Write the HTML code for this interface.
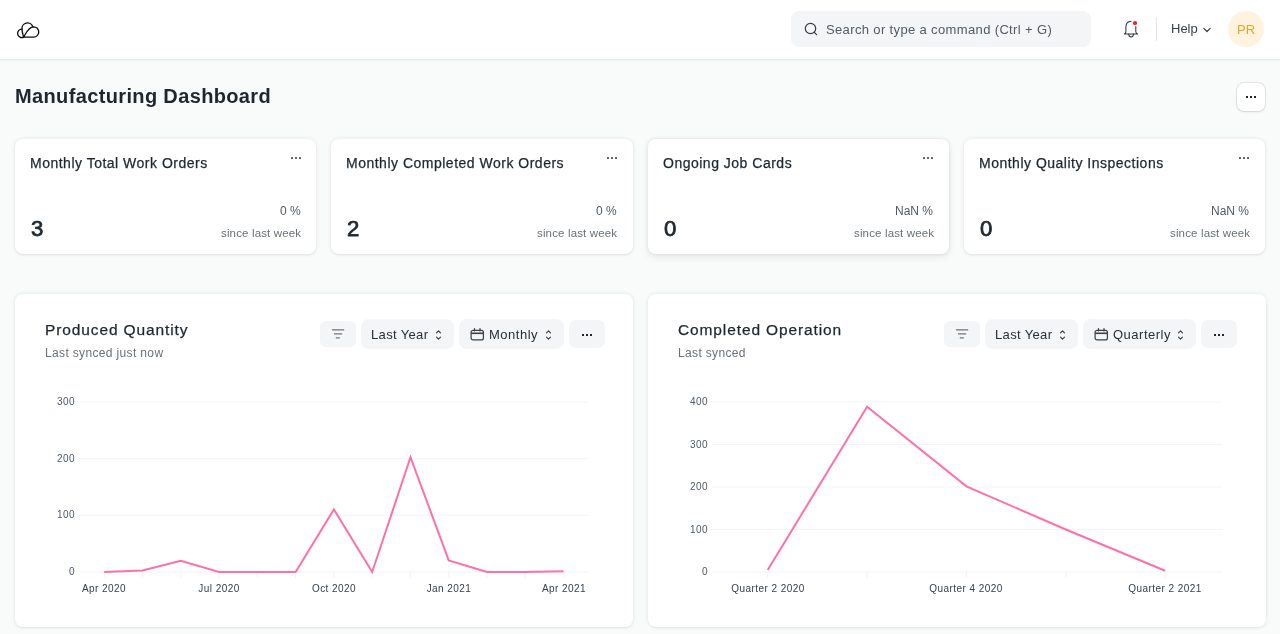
<!DOCTYPE html>
<html><head><meta charset="utf-8"><title>Manufacturing Dashboard</title>
<style>
html,body{margin:0;padding:0;width:1280px;height:634px;overflow:hidden;background:#F9FAFA;font-family:"Liberation Sans", sans-serif;}
.t{position:absolute;white-space:pre;font-family:"Liberation Sans", sans-serif;will-change:transform;}
</style></head><body>
<div style="position:absolute;left:0px;top:0px;width:1280px;height:59px;background:#fff;border-bottom:1px solid #E9ECEE;box-shadow:0 1px 2px rgba(25,39,52,0.04)"></div>
<svg style="position:absolute;left:14px;top:18px" width="28" height="22" viewBox="0 0 28 22" fill="none" stroke="#0B0B0B" stroke-width="1.3" stroke-linejoin="round" stroke-linecap="round">
<path d="M9.6 19.1 A4.17 4.17 0 1 1 8.0 11.2"/>
<path d="M9.6 19.1 C9.0 16.4 7.9 13.8 8.0 11.2 A5.56 5.56 0 0 1 18.7 8.5"/>
<path d="M9.6 19.1 C12.2 15.2 14 9.2 19.6 8.8 A5.1 5.1 0 0 1 19.6 19.1 Z"/>
</svg>
<div style="position:absolute;left:791px;top:11px;width:300px;height:36px;background:#F4F5F6;border-radius:8px"></div>
<svg style="position:absolute;left:803px;top:21px" width="16" height="16" viewBox="0 0 16 16" fill="none" stroke="#333C44" stroke-width="1.2" stroke-linecap="round">
<circle cx="7.5" cy="7.5" r="5.2"/><path d="M11.3 11.3 L13.6 13.6"/></svg>
<div class="t" style="left:825.80px;top:22.80px;font-size:13px;line-height:13px;color:#525B63;font-weight:400;letter-spacing:0.36px;">Search or type a command (Ctrl + G)</div>
<svg style="position:absolute;left:1118px;top:16px" width="28" height="26" viewBox="0 0 28 26" fill="none" stroke="#30383F" stroke-width="1.05" stroke-linecap="round" stroke-linejoin="round">
<path d="M13.1 5.3 C9.8 5.5 7.9 8 7.9 11.2 L7.9 15.8 C7.9 16.9 7.3 17.6 6.4 17.9 L19.6 17.9 C18.7 17.6 17.8 16.9 17.8 15.8 L17.8 10.5"/>
<path d="M10.7 18.1 C10.9 20 12 20.9 13.1 20.9 C14.2 20.9 15.3 20 15.5 18.1"/>
</svg>
<div style="position:absolute;left:1133.2px;top:21px;width:3.7px;height:3.7px;background:#F5222D;border-radius:50%"></div>
<div style="position:absolute;left:1156px;top:17px;width:1px;height:24px;background:#E2E6E9"></div>
<div class="t" style="left:1171.00px;top:22.30px;font-size:13px;line-height:13px;color:#383F45;font-weight:400;letter-spacing:0px;">Help</div>
<svg style="position:absolute;left:1202px;top:26px" width="10" height="8" viewBox="0 0 10 8" fill="none" stroke="#383F45" stroke-width="1.2" stroke-linecap="round" stroke-linejoin="round"><path d="M1.8 2.3 L5 5.5 L8.2 2.3"/></svg>
<div style="position:absolute;left:1228px;top:11px;width:36px;height:36px;background:#FFF3DF;border-radius:50%"></div>
<div class="t" style="left:1237.20px;top:22.80px;font-size:13px;line-height:13px;color:#E2A528;font-weight:400;letter-spacing:0.2px;">PR</div>
<div class="t" style="left:14.80px;top:85.87px;font-size:20px;line-height:20px;color:#1F272E;font-weight:700;letter-spacing:0.36px;">Manufacturing Dashboard</div>
<div style="position:absolute;left:1236.5px;top:83px;width:28px;height:28px;background:#fff;border-radius:7px;box-shadow:0 0 0 1px rgba(25,39,52,0.08),0 1px 3px rgba(25,39,52,0.10)"></div>
<div style="position:absolute;left:1246px;top:96px;width:2px;height:2px;background:#1F272E"></div>
<div style="position:absolute;left:1250px;top:96px;width:2px;height:2px;background:#1F272E"></div>
<div style="position:absolute;left:1254px;top:96px;width:2px;height:2px;background:#1F272E"></div>
<div style="position:absolute;left:15px;top:139px;width:301.25px;height:115px;background:#fff;border-radius:8px;box-shadow:0 1px 2px rgba(25,39,52,0.05),0 0 4px rgba(25,39,52,0.10)"></div>
<div class="t" style="left:30.00px;top:155.95px;font-size:14px;line-height:14px;color:#1F272E;font-weight:400;letter-spacing:0.5px;-webkit-text-stroke:0.25px #1F272E">Monthly Total Work Orders</div>
<div style="position:absolute;left:290.5px;top:157px;width:2px;height:2px;background:#505A62;border-radius:0.5px"></div>
<div style="position:absolute;left:294.5px;top:157px;width:2px;height:2px;background:#505A62;border-radius:0.5px"></div>
<div style="position:absolute;left:298.5px;top:157px;width:2px;height:2px;background:#505A62;border-radius:0.5px"></div>
<div class="t" style="left:31.00px;top:218.60px;font-size:21.5px;line-height:21.5px;color:#1F272E;font-weight:400;letter-spacing:0px;transform:scaleX(1.03);transform-origin:0 0;-webkit-text-stroke:0.75px #1F272E;">3</div>
<div class="t" style="right:979.50px;top:204.94px;font-size:12px;line-height:12px;color:#505A62;font-weight:400;letter-spacing:0px;">0 %</div>
<div class="t" style="right:978.70px;top:227.77px;font-size:11.5px;line-height:11.5px;color:#687178;font-weight:400;letter-spacing:0.15px;">since last week</div>
<div style="position:absolute;left:331.25px;top:139px;width:301.25px;height:115px;background:#fff;border-radius:8px;box-shadow:0 1px 2px rgba(25,39,52,0.05),0 0 4px rgba(25,39,52,0.10)"></div>
<div class="t" style="left:346.25px;top:155.95px;font-size:14px;line-height:14px;color:#1F272E;font-weight:400;letter-spacing:0.5px;-webkit-text-stroke:0.25px #1F272E">Monthly Completed Work Orders</div>
<div style="position:absolute;left:606.75px;top:157px;width:2px;height:2px;background:#505A62;border-radius:0.5px"></div>
<div style="position:absolute;left:610.75px;top:157px;width:2px;height:2px;background:#505A62;border-radius:0.5px"></div>
<div style="position:absolute;left:614.75px;top:157px;width:2px;height:2px;background:#505A62;border-radius:0.5px"></div>
<div class="t" style="left:347.25px;top:218.60px;font-size:21.5px;line-height:21.5px;color:#1F272E;font-weight:400;letter-spacing:0px;transform:scaleX(1.03);transform-origin:0 0;-webkit-text-stroke:0.75px #1F272E;">2</div>
<div class="t" style="right:663.25px;top:204.94px;font-size:12px;line-height:12px;color:#505A62;font-weight:400;letter-spacing:0px;">0 %</div>
<div class="t" style="right:662.45px;top:227.77px;font-size:11.5px;line-height:11.5px;color:#687178;font-weight:400;letter-spacing:0.15px;">since last week</div>
<div style="position:absolute;left:647.5px;top:139px;width:301.25px;height:115px;background:#fff;border-radius:8px;box-shadow:0 4px 8px rgba(25,39,52,0.06),0 0 4px rgba(25,39,52,0.12)"></div>
<div class="t" style="left:662.50px;top:155.95px;font-size:14px;line-height:14px;color:#1F272E;font-weight:400;letter-spacing:0.5px;-webkit-text-stroke:0.25px #1F272E">Ongoing Job Cards</div>
<div style="position:absolute;left:923.0px;top:157px;width:2px;height:2px;background:#505A62;border-radius:0.5px"></div>
<div style="position:absolute;left:927.0px;top:157px;width:2px;height:2px;background:#505A62;border-radius:0.5px"></div>
<div style="position:absolute;left:931.0px;top:157px;width:2px;height:2px;background:#505A62;border-radius:0.5px"></div>
<div class="t" style="left:663.50px;top:218.60px;font-size:21.5px;line-height:21.5px;color:#1F272E;font-weight:400;letter-spacing:0px;transform:scaleX(1.03);transform-origin:0 0;-webkit-text-stroke:0.75px #1F272E;">0</div>
<div class="t" style="right:347.00px;top:204.94px;font-size:12px;line-height:12px;color:#505A62;font-weight:400;letter-spacing:0px;">NaN %</div>
<div class="t" style="right:346.20px;top:227.77px;font-size:11.5px;line-height:11.5px;color:#687178;font-weight:400;letter-spacing:0.15px;">since last week</div>
<div style="position:absolute;left:963.75px;top:139px;width:301.25px;height:115px;background:#fff;border-radius:8px;box-shadow:0 1px 2px rgba(25,39,52,0.05),0 0 4px rgba(25,39,52,0.10)"></div>
<div class="t" style="left:978.75px;top:155.95px;font-size:14px;line-height:14px;color:#1F272E;font-weight:400;letter-spacing:0.5px;-webkit-text-stroke:0.25px #1F272E">Monthly Quality Inspections</div>
<div style="position:absolute;left:1239.25px;top:157px;width:2px;height:2px;background:#505A62;border-radius:0.5px"></div>
<div style="position:absolute;left:1243.25px;top:157px;width:2px;height:2px;background:#505A62;border-radius:0.5px"></div>
<div style="position:absolute;left:1247.25px;top:157px;width:2px;height:2px;background:#505A62;border-radius:0.5px"></div>
<div class="t" style="left:979.75px;top:218.60px;font-size:21.5px;line-height:21.5px;color:#1F272E;font-weight:400;letter-spacing:0px;transform:scaleX(1.03);transform-origin:0 0;-webkit-text-stroke:0.75px #1F272E;">0</div>
<div class="t" style="right:30.75px;top:204.94px;font-size:12px;line-height:12px;color:#505A62;font-weight:400;letter-spacing:0px;">NaN %</div>
<div class="t" style="right:29.95px;top:227.77px;font-size:11.5px;line-height:11.5px;color:#687178;font-weight:400;letter-spacing:0.15px;">since last week</div>
<div style="position:absolute;left:15px;top:294px;width:617.5px;height:333px;background:#fff;border-radius:8px;box-shadow:0 1px 2px rgba(25,39,52,0.05),0 0 4px rgba(25,39,52,0.10)"></div>
<div class="t" style="left:44.60px;top:321.63px;font-size:15.5px;line-height:15.5px;color:#1F272E;font-weight:400;letter-spacing:0.88px;-webkit-text-stroke:0.25px #1F272E">Produced Quantity</div>
<div class="t" style="left:44.60px;top:347.34px;font-size:12px;line-height:12px;color:#687178;font-weight:400;letter-spacing:0.35px;">Last synced just now</div>
<div style="position:absolute;left:320px;top:321px;width:36px;height:26px;background:#F4F5F6;border-radius:6px"></div>
<svg style="position:absolute;left:332px;top:327px" width="13" height="13" viewBox="0 0 13 13" stroke="#6B747C" stroke-width="1.3" stroke-linecap="butt"><path d="M0 2.8H12.2M2 6.8H10.2M3.8 10.8H7.8"/></svg>
<div style="position:absolute;left:361px;top:319px;width:93px;height:30px;background:#F4F5F6;border-radius:8px"></div>
<div class="t" style="left:371.30px;top:328.00px;font-size:13px;line-height:13px;color:#283037;font-weight:400;letter-spacing:0.35px;">Last Year</div>
<svg style="position:absolute;left:435.3px;top:329px" width="7" height="12" viewBox="0 0 7 12" fill="none" stroke="#383F45" stroke-width="1.15" stroke-linecap="round" stroke-linejoin="round"><path d="M1.5 3.9 L3.5 1.9 L5.5 3.9 M1.5 8.1 L3.5 10.1 L5.5 8.1"/></svg>
<div style="position:absolute;left:459px;top:319px;width:105px;height:30px;background:#F4F5F6;border-radius:8px"></div>
<svg style="position:absolute;left:469.5px;top:327.5px" width="15" height="14" viewBox="0 0 15 14" fill="none" stroke="#383F45" stroke-width="1.2"><rect x="1.1" y="2.3" width="12.3" height="9.6" rx="2"/><path d="M1.1 5.3 H13.4" stroke-width="1.6"/><path d="M4.5 0.6 V3 M10 0.6 V3" stroke-linecap="round"/></svg>
<div class="t" style="left:489.00px;top:327.90px;font-size:13px;line-height:13px;color:#283037;font-weight:400;letter-spacing:0.5px;">Monthly</div>
<svg style="position:absolute;left:545.3px;top:329px" width="7" height="12" viewBox="0 0 7 12" fill="none" stroke="#383F45" stroke-width="1.15" stroke-linecap="round" stroke-linejoin="round"><path d="M1.5 3.9 L3.5 1.9 L5.5 3.9 M1.5 8.1 L3.5 10.1 L5.5 8.1"/></svg>
<div style="position:absolute;left:569px;top:320px;width:36px;height:28px;background:#F4F5F6;border-radius:7px"></div>
<div style="position:absolute;left:582px;top:334px;width:2px;height:2px;background:#1F272E"></div>
<div style="position:absolute;left:586px;top:334px;width:2px;height:2px;background:#1F272E"></div>
<div style="position:absolute;left:590px;top:334px;width:2px;height:2px;background:#1F272E"></div>
<svg style="position:absolute;left:0;top:0" width="1280" height="634"><line x1="79" y1="572.0" x2="588.8" y2="572.0" stroke="#F2F4F5" stroke-width="1"/><line x1="79" y1="515.3" x2="588.8" y2="515.3" stroke="#F2F4F5" stroke-width="1"/><line x1="79" y1="458.7" x2="588.8" y2="458.7" stroke="#F2F4F5" stroke-width="1"/><line x1="79" y1="402.0" x2="588.8" y2="402.0" stroke="#F2F4F5" stroke-width="1"/><line x1="104.20" y1="572.0" x2="104.20" y2="577.8" stroke="#F0F2F3" stroke-width="1"/><line x1="142.48" y1="572.0" x2="142.48" y2="577.8" stroke="#F0F2F3" stroke-width="1"/><line x1="180.77" y1="572.0" x2="180.77" y2="577.8" stroke="#F0F2F3" stroke-width="1"/><line x1="219.05" y1="572.0" x2="219.05" y2="577.8" stroke="#F0F2F3" stroke-width="1"/><line x1="257.33" y1="572.0" x2="257.33" y2="577.8" stroke="#F0F2F3" stroke-width="1"/><line x1="295.62" y1="572.0" x2="295.62" y2="577.8" stroke="#F0F2F3" stroke-width="1"/><line x1="333.90" y1="572.0" x2="333.90" y2="577.8" stroke="#F0F2F3" stroke-width="1"/><line x1="372.18" y1="572.0" x2="372.18" y2="577.8" stroke="#F0F2F3" stroke-width="1"/><line x1="410.47" y1="572.0" x2="410.47" y2="577.8" stroke="#F0F2F3" stroke-width="1"/><line x1="448.75" y1="572.0" x2="448.75" y2="577.8" stroke="#F0F2F3" stroke-width="1"/><line x1="487.03" y1="572.0" x2="487.03" y2="577.8" stroke="#F0F2F3" stroke-width="1"/><line x1="525.32" y1="572.0" x2="525.32" y2="577.8" stroke="#F0F2F3" stroke-width="1"/><line x1="563.60" y1="572.0" x2="563.60" y2="577.8" stroke="#F0F2F3" stroke-width="1"/><polyline points="104.20,572.00 142.48,570.58 180.77,560.67 219.05,572.00 257.33,572.00 295.62,572.00 333.90,509.38 372.18,572.00 410.47,457.25 448.75,560.38 487.03,572.00 525.32,572.00 563.60,571.32" fill="none" stroke="#FF70AB" stroke-width="2"/></svg>
<div class="t" style="right:1205.00px;top:567.13px;font-size:10px;line-height:10px;color:#4C5A67;font-weight:400;letter-spacing:0.5px;">0</div>
<div class="t" style="right:1205.00px;top:510.47px;font-size:10px;line-height:10px;color:#4C5A67;font-weight:400;letter-spacing:0.5px;">100</div>
<div class="t" style="right:1205.00px;top:453.80px;font-size:10px;line-height:10px;color:#4C5A67;font-weight:400;letter-spacing:0.5px;">200</div>
<div class="t" style="right:1205.00px;top:397.14px;font-size:10px;line-height:10px;color:#4C5A67;font-weight:400;letter-spacing:0.5px;">300</div>
<div class="t" style="left:44.20px;width:120px;text-align:center;top:584.43px;font-size:10px;line-height:10px;color:#36414C;letter-spacing:0.45px">Apr 2020</div>
<div class="t" style="left:159.05px;width:120px;text-align:center;top:584.43px;font-size:10px;line-height:10px;color:#36414C;letter-spacing:0.45px">Jul 2020</div>
<div class="t" style="left:273.90px;width:120px;text-align:center;top:584.43px;font-size:10px;line-height:10px;color:#36414C;letter-spacing:0.45px">Oct 2020</div>
<div class="t" style="left:388.75px;width:120px;text-align:center;top:584.43px;font-size:10px;line-height:10px;color:#36414C;letter-spacing:0.45px">Jan 2021</div>
<div class="t" style="left:503.60px;width:120px;text-align:center;top:584.43px;font-size:10px;line-height:10px;color:#36414C;letter-spacing:0.45px">Apr 2021</div>
<div style="position:absolute;left:648px;top:294px;width:617.5px;height:333px;background:#fff;border-radius:8px;box-shadow:0 1px 2px rgba(25,39,52,0.05),0 0 4px rgba(25,39,52,0.10)"></div>
<div class="t" style="left:677.60px;top:321.63px;font-size:15.5px;line-height:15.5px;color:#1F272E;font-weight:400;letter-spacing:0.88px;-webkit-text-stroke:0.25px #1F272E">Completed Operation</div>
<div class="t" style="left:677.60px;top:347.34px;font-size:12px;line-height:12px;color:#687178;font-weight:400;letter-spacing:0.35px;">Last synced</div>
<div style="position:absolute;left:944px;top:321px;width:36px;height:26px;background:#F4F5F6;border-radius:6px"></div>
<svg style="position:absolute;left:956px;top:327px" width="13" height="13" viewBox="0 0 13 13" stroke="#6B747C" stroke-width="1.3" stroke-linecap="butt"><path d="M0 2.8H12.2M2 6.8H10.2M3.8 10.8H7.8"/></svg>
<div style="position:absolute;left:985px;top:319px;width:93px;height:30px;background:#F4F5F6;border-radius:8px"></div>
<div class="t" style="left:995.30px;top:328.00px;font-size:13px;line-height:13px;color:#283037;font-weight:400;letter-spacing:0.35px;">Last Year</div>
<svg style="position:absolute;left:1059.3px;top:329px" width="7" height="12" viewBox="0 0 7 12" fill="none" stroke="#383F45" stroke-width="1.15" stroke-linecap="round" stroke-linejoin="round"><path d="M1.5 3.9 L3.5 1.9 L5.5 3.9 M1.5 8.1 L3.5 10.1 L5.5 8.1"/></svg>
<div style="position:absolute;left:1083px;top:319px;width:113px;height:30px;background:#F4F5F6;border-radius:8px"></div>
<svg style="position:absolute;left:1093.5px;top:327.5px" width="15" height="14" viewBox="0 0 15 14" fill="none" stroke="#383F45" stroke-width="1.2"><rect x="1.1" y="2.3" width="12.3" height="9.6" rx="2"/><path d="M1.1 5.3 H13.4" stroke-width="1.6"/><path d="M4.5 0.6 V3 M10 0.6 V3" stroke-linecap="round"/></svg>
<div class="t" style="left:1113.00px;top:327.90px;font-size:13px;line-height:13px;color:#283037;font-weight:400;letter-spacing:0.5px;">Quarterly</div>
<svg style="position:absolute;left:1177.3px;top:329px" width="7" height="12" viewBox="0 0 7 12" fill="none" stroke="#383F45" stroke-width="1.15" stroke-linecap="round" stroke-linejoin="round"><path d="M1.5 3.9 L3.5 1.9 L5.5 3.9 M1.5 8.1 L3.5 10.1 L5.5 8.1"/></svg>
<div style="position:absolute;left:1201px;top:320px;width:36px;height:28px;background:#F4F5F6;border-radius:7px"></div>
<div style="position:absolute;left:1214px;top:334px;width:2px;height:2px;background:#1F272E"></div>
<div style="position:absolute;left:1218px;top:334px;width:2px;height:2px;background:#1F272E"></div>
<div style="position:absolute;left:1222px;top:334px;width:2px;height:2px;background:#1F272E"></div>
<svg style="position:absolute;left:0;top:0" width="1280" height="634"><line x1="712" y1="572.0" x2="1221.8" y2="572.0" stroke="#F2F4F5" stroke-width="1"/><line x1="712" y1="529.5" x2="1221.8" y2="529.5" stroke="#F2F4F5" stroke-width="1"/><line x1="712" y1="487.0" x2="1221.8" y2="487.0" stroke="#F2F4F5" stroke-width="1"/><line x1="712" y1="444.5" x2="1221.8" y2="444.5" stroke="#F2F4F5" stroke-width="1"/><line x1="712" y1="402.0" x2="1221.8" y2="402.0" stroke="#F2F4F5" stroke-width="1"/><line x1="767.70" y1="572.0" x2="767.70" y2="577.8" stroke="#F0F2F3" stroke-width="1"/><line x1="867.08" y1="572.0" x2="867.08" y2="577.8" stroke="#F0F2F3" stroke-width="1"/><line x1="966.45" y1="572.0" x2="966.45" y2="577.8" stroke="#F0F2F3" stroke-width="1"/><line x1="1065.83" y1="572.0" x2="1065.83" y2="577.8" stroke="#F0F2F3" stroke-width="1"/><line x1="1165.20" y1="572.0" x2="1165.20" y2="577.8" stroke="#F0F2F3" stroke-width="1"/><polyline points="767.70,570.09 867.08,406.68 966.45,486.36 1065.83,529.50 1165.20,570.73" fill="none" stroke="#FF70AB" stroke-width="2"/></svg>
<div class="t" style="right:572.00px;top:567.13px;font-size:10px;line-height:10px;color:#4C5A67;font-weight:400;letter-spacing:0.5px;">0</div>
<div class="t" style="right:572.00px;top:524.63px;font-size:10px;line-height:10px;color:#4C5A67;font-weight:400;letter-spacing:0.5px;">100</div>
<div class="t" style="right:572.00px;top:482.14px;font-size:10px;line-height:10px;color:#4C5A67;font-weight:400;letter-spacing:0.5px;">200</div>
<div class="t" style="right:572.00px;top:439.64px;font-size:10px;line-height:10px;color:#4C5A67;font-weight:400;letter-spacing:0.5px;">300</div>
<div class="t" style="right:572.00px;top:397.14px;font-size:10px;line-height:10px;color:#4C5A67;font-weight:400;letter-spacing:0.5px;">400</div>
<div class="t" style="left:707.70px;width:120px;text-align:center;top:584.43px;font-size:10px;line-height:10px;color:#36414C;letter-spacing:0.45px">Quarter 2 2020</div>
<div class="t" style="left:906.45px;width:120px;text-align:center;top:584.43px;font-size:10px;line-height:10px;color:#36414C;letter-spacing:0.45px">Quarter 4 2020</div>
<div class="t" style="left:1105.20px;width:120px;text-align:center;top:584.43px;font-size:10px;line-height:10px;color:#36414C;letter-spacing:0.45px">Quarter 2 2021</div>
</body></html>
